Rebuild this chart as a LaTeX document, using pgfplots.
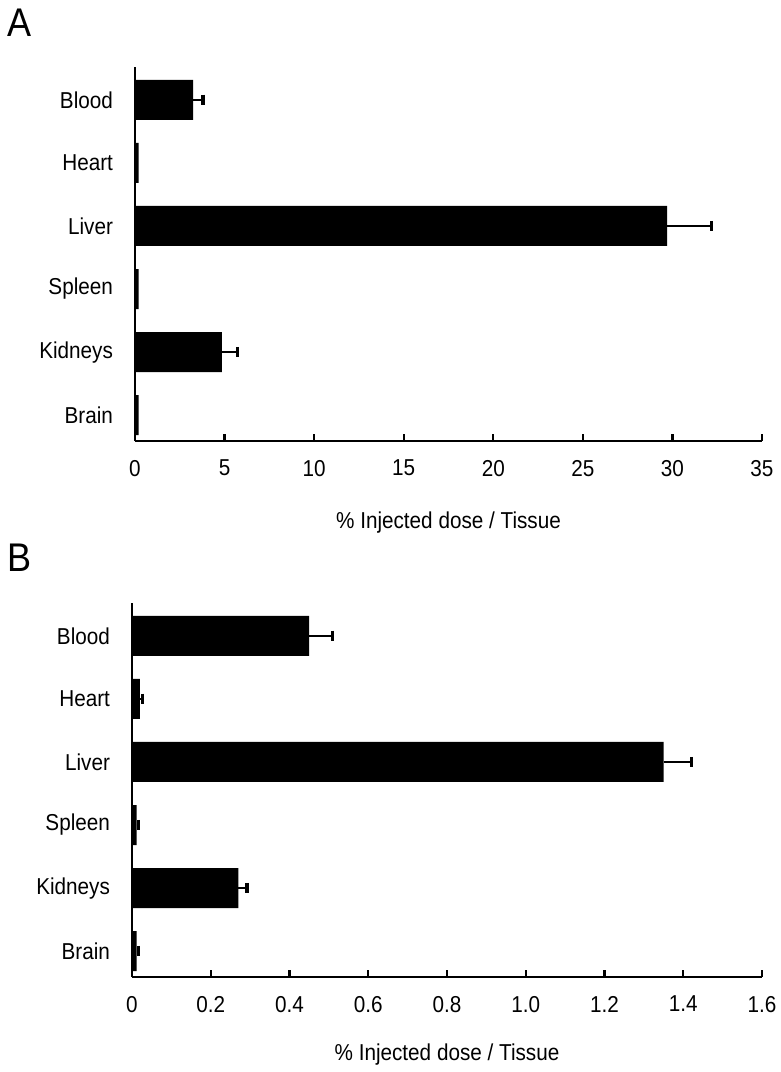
\documentclass[border=0pt]{standalone}
\usepackage{pgfplots}
\pgfplotsset{compat=1.18}
\usepackage{fontspec}
\setmainfont{Liberation Sans}[FakeStretch=0.9]

\pgfplotsset{
  organ/.style={
    scale only axis,
    axis x line*=bottom, axis y line*=left,
    axis line style={line width=1.4pt},
    y dir=reverse,
    ymin=-0.52, ymax=5.41,
    ytick={0,1,2,3,4,5},
    yticklabels={Blood,Heart,Liver,Spleen,Kidneys,Brain},
    ytick style={draw=none},
    yticklabel style={xshift=-7.5pt},
    tick align=inside,
    major tick length=3.5pt,
    xtick style={line width=1.2pt, black},
    xticklabel style={yshift=-6pt},
    tick label style={font=\fontsize{11.5pt}{13pt}\selectfont},
    label style={font=\fontsize{11.5pt}{13pt}\selectfont},
    /pgf/number format/assume math mode=true,
    xlabel={\% Injected dose / Tissue},
    xlabel style={yshift=-9pt},
    clip=false,
  },
  organbar/.style={
    xbar, bar shift=0pt, bar width=20pt, fill=black, draw=none,
  },
  organerr/.style={
    organbar,
    error bars/.cd, x dir=plus, x explicit, error mark=|,
    error bar style={line width=1.2pt, black},
    error mark options={line width=1.6pt, mark size=2.6pt, black},
  },
}

\begin{document}
\begin{tikzpicture}
  \useasboundingbox (0pt,0pt) rectangle (390.5pt,-536pt);

  \node[anchor=north west, font=\fontsize{20pt}{22pt}\selectfont, inner sep=0pt] at (3.5pt,-4.5pt) {A};
  \node[anchor=north west, font=\fontsize{20pt}{22pt}\selectfont, inner sep=0pt] at (3.5pt,-272pt) {B};

  \begin{axis}[organ,
      at={(67.5pt,-220.5pt)}, anchor=south west,
      width=313.5pt, height=187pt,
      xmin=0, xmax=35,
      xtick={0,5,10,15,20,25,30,35},
      xlabel style={yshift=-2pt},
    ]
    \addplot[organerr] coordinates {
      (3.25,0) +- (0.55,0)
      (29.7,2) +- (2.5,0)
      (4.85,4) +- (0.85,0)
    };
    \addplot[organbar] coordinates {
      (0.2,1)
      (0.2,3)
      (0.2,5)
    };
  \end{axis}

  \begin{axis}[organ,
      at={(66pt,-488.5pt)}, anchor=south west,
      width=315pt, height=187pt,
      xmin=0, xmax=1.6,
      xtick={0,0.2,0.4,0.6,0.8,1.0,1.2,1.4,1.6},
      xticklabels={0,0.2,0.4,0.6,0.8,1.0,1.2,1.4,1.6},
    ]
    \addplot[organerr] coordinates {
      (0.45,0) +- (0.06,0)
      (0.02,1) +- (0.006,0)
      (1.35,2) +- (0.07,0)
      (0.012,3) +- (0.004,0)
      (0.27,4) +- (0.022,0)
      (0.012,5) +- (0.004,0)
    };
  \end{axis}
\end{tikzpicture}
\end{document}
